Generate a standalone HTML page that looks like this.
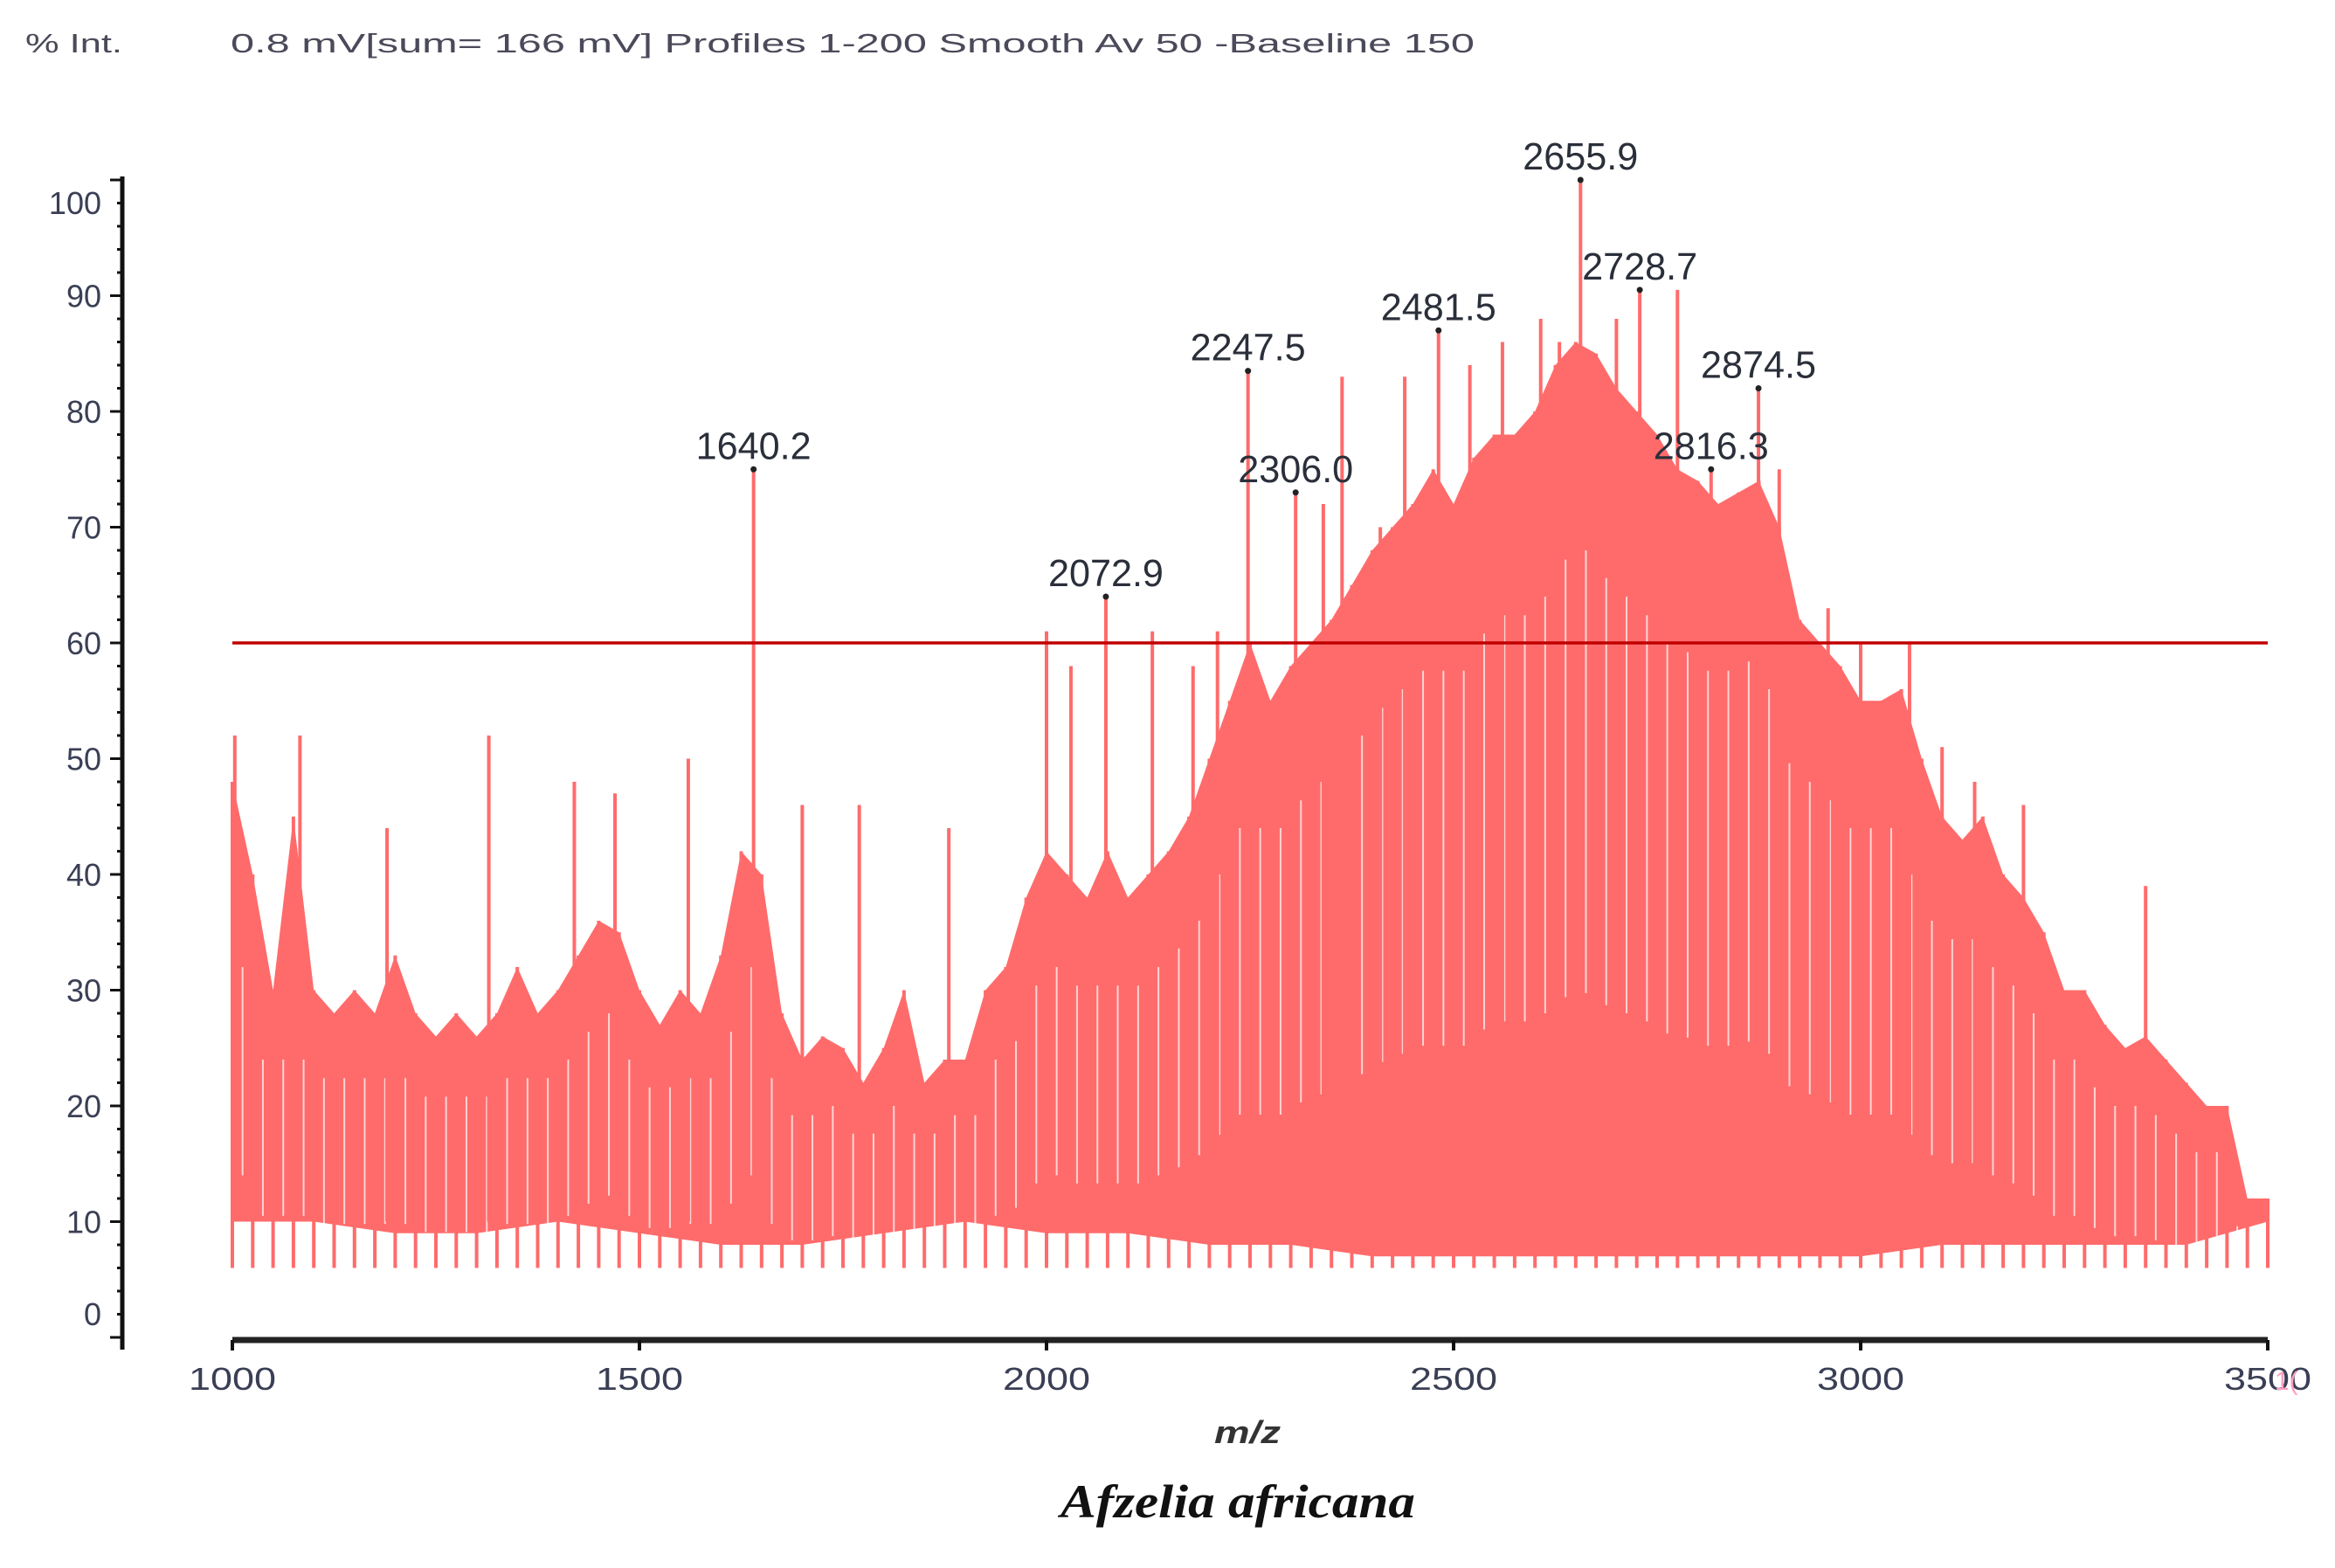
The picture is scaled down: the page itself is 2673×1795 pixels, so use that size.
<!DOCTYPE html>
<html><head><meta charset="utf-8"><style>
html,body{margin:0;padding:0;background:#fff;}
svg{display:block;}
</style></head><body>
<svg id="chart" width="2673" height="1795" viewBox="0 0 2673 1795" xmlns="http://www.w3.org/2000/svg">
<text x="29" y="60" font-family="Liberation Sans, sans-serif" font-size="31" fill="#4a4a5a" textLength="111" lengthAdjust="spacingAndGlyphs">% Int.</text>
<text x="264" y="60" font-family="Liberation Sans, sans-serif" font-size="31" fill="#4a4a5a" textLength="1424" lengthAdjust="spacingAndGlyphs">0.8 mV[sum= 166 mV]  Profiles 1-200 Smooth Av 50 -Baseline 150</text>
<g id="spectrum"></g>
<g id="axes"></g>
<g id="labels"></g>
<text x="1428" y="1652" text-anchor="middle" font-family="Liberation Sans, sans-serif" font-size="36" font-weight="bold" font-style="italic" fill="#333" textLength="76" lengthAdjust="spacingAndGlyphs">m/z</text>
<text x="1417" y="1737" text-anchor="middle" font-family="Liberation Serif, serif" font-size="54" font-weight="bold" font-style="italic" fill="#111" textLength="406" lengthAdjust="spacingAndGlyphs">Afzelia africana</text>
</svg>
<script>
const envMz = [];
for (let m = 1000; m <= 3500; m += 25) envMz.push(m);
const envHi = [48,40,30,45,30,28,30,28,33,28,26,28,26,28,32,28,30,33,36,35,30,27,30,28,33,42,40,28,24,26,25,22,25,30,22,24,24,30,32,38,42,40,38,42,38,40,42,45,50,55,60,55,58,60,62,65,68,70,72,75,72,76,78,78,80,84,86,85,82,80,78,75,74,72,73,74,70,62,60,58,55,55,56,50,45,43,45,40,38,35,30,30,27,25,26,24,22,20,20,12,12];
const loMz = [1000,1100,1200,1300,1400,1500,1600,1700,1800,1900,2000,2100,2200,2300,2400,2500,2600,2700,2800,2900,3000,3100,3200,3300,3400,3500];
const loVal = [10,10,9,9,10,9,8,8,9,10,9,9,8,8,7,7,7,7,7,7,7,8,8,8,8,10];
const spikeMz = [1003,1083,1190,1315,1420,1470,1560,1640.2,1700,1770,1880,2000,2030,2072.9,2130,2180,2210,2247.5,2306,2340,2363,2410,2440,2481.5,2520,2560,2607,2630,2655.9,2700,2728.7,2775,2816.3,2874.5,2900,2960,3000,3060,3100,3140,3200,3350];
const spikeVal = [52,52,44,52,48,47,50,75,46,46,44,61,58,64,61,58,61,83.5,73,72,83,70,83,87,84,86,88,86,100,88,90.5,90.5,75,82,75,63,60,60,51,48,46,39];
const peakLabels = ["1640.2","2072.9","2247.5","2306.0","2481.5","2655.9","2728.7","2816.3","2874.5"];
const peakMz = [1640.2,2072.9,2247.5,2306.0,2481.5,2655.9,2728.7,2816.3,2874.5];
const peakVal = [75,64,83.5,73,87,100,90.5,75,82];
const xTicks = [1000,1500,2000,2500,3000,3500];
const yTicks = [0,10,20,30,40,50,60,70,80,90,100];
const threshold = 60;

const NS = "http://www.w3.org/2000/svg";
function x(m){ return 266 + (m - 1000) * 0.932; }
function y(v){ return 1531 - v * 13.25; }
function mk(tag, attrs, parent){
  const e = document.createElementNS(NS, tag);
  for (const k in attrs) e.setAttribute(k, attrs[k]);
  parent.appendChild(e);
  return e;
}
const sp = document.getElementById('spectrum');
const ax = document.getElementById('axes');
const lb = document.getElementById('labels');
const RED = "#ff6b6b";

let pts = [];
for (let i = 0; i < envMz.length; i++) pts.push(x(envMz[i]).toFixed(1) + "," + y(envHi[i]).toFixed(1));
for (let i = loMz.length - 1; i >= 0; i--) pts.push(x(loMz[i]).toFixed(1) + "," + y(loVal[i]).toFixed(1));
const poly = mk('polygon', {points: pts.join(" "), fill: RED}, sp);



for (let i = 0; i < envMz.length; i++) {
  const r = mk('line', {x1: x(envMz[i]), x2: x(envMz[i]), y1: y(6), y2: y(envHi[i]), stroke: RED, 'stroke-width': 4}, sp);
  
  
}
for (let i = 0; i < envMz.length - 1; i++) {
  const gx = x(envMz[i] + 12.5);
  const h = Math.min(envHi[i], envHi[i+1]);
  const g = mk('line', {x1: gx, x2: gx, y1: y(h * 0.8), y2: y(h * 0.35), stroke: "#ffffff", 'stroke-width': 2, opacity: 0.7}, sp);
  
  
}
for (let i = 0; i < spikeMz.length; i++) {
  const s = mk('line', {x1: x(spikeMz[i]), x2: x(spikeMz[i]), y1: y(10), y2: y(spikeVal[i]), stroke: RED, 'stroke-width': 4}, sp);
  
  
}
const th = mk('line', {x1: x(1000), x2: x(3500), y1: y(threshold), y2: y(threshold), stroke: "#c00000", 'stroke-width': 3.5}, sp);



for (let i = 0; i < peakMz.length; i++) {
  const d = mk('circle', {cx: x(peakMz[i]), cy: y(peakVal[i]), r: 3.5, fill: "#222"}, lb);
  
  
  const t = mk('text', {x: x(peakMz[i]), y: y(peakVal[i]) - 12, 'text-anchor': 'middle', 'font-family': 'Liberation Sans, sans-serif', 'font-size': 44, fill: '#2a2f3a', textLength: 132, lengthAdjust: 'spacingAndGlyphs'}, lb);
  
  
  t.textContent = peakLabels[i];
}

const ya = mk('line', {x1: 140, x2: 140, y1: y(100) - 4, y2: 1545, stroke: "#111", 'stroke-width': 5}, ax);


for (let v = 0; v <= 100; v += 2) {
  const major = v % 10 === 0;
  const tk = mk('line', {x1: major ? 126 : 134, x2: 140, y1: y(v), y2: y(v), stroke: "#111", 'stroke-width': 3}, ax);
  
  
}
for (let i = 0; i < yTicks.length; i++) {
  const v = yTicks[i];
  const ty = Math.max(232, Math.min(1504, y(v))) + 13;
  const t = mk('text', {x: 116, y: ty, 'text-anchor': 'end', 'font-family': 'Liberation Sans, sans-serif', 'font-size': 36, fill: '#3a3f55'}, ax);
  
  
  t.textContent = v;
}
const xa = mk('line', {x1: x(1000), x2: x(3500), y1: 1534, y2: 1534, stroke: "#222", 'stroke-width': 7}, ax);


for (let i = 0; i < xTicks.length; i++) {
  const tk = mk('line', {x1: x(xTicks[i]), x2: x(xTicks[i]), y1: 1534, y2: 1546, stroke: "#111", 'stroke-width': 4}, ax);
  
  
  const t = mk('text', {x: x(xTicks[i]), y: 1591, 'text-anchor': 'middle', 'font-family': 'Liberation Sans, sans-serif', 'font-size': 36, fill: '#3a3f55', textLength: 100, lengthAdjust: 'spacingAndGlyphs'}, ax);
  
  
  t.textContent = xTicks[i];
}
const cut = mk('text', {x: 2604, y: 1591, 'font-family': 'Liberation Sans, sans-serif', 'font-size': 30, fill: '#ff9ec0'}, ax);


cut.textContent = "1(";
</script>
</body></html>
